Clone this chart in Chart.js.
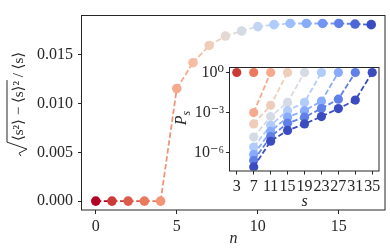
<!DOCTYPE html>
<html>
<head>
<meta charset="utf-8">
<script src="https://cdn.jsdelivr.net/npm/chart.js@4/dist/chart.umd.min.js"></script>
<style>
  html, body { margin: 0; padding: 0; background: #fff; }
  #wrap { position: relative; width: 390px; height: 251px; }
  #mainChart { position: absolute; left: 0; top: 0; }
  #insetChart { position: absolute; left: 168px; top: 55px; }
</style>
</head>
<body>
<div id="wrap">
  <canvas id="mainChart" width="390" height="251"></canvas>
  <canvas id="insetChart" width="218" height="157"></canvas>
</div>
<script>
// Main panel: relative width of the size distribution vs n
const nValues = [0, 1, 2, 3, 4, 5, 6, 7, 8, 9, 10, 11, 12, 13, 14, 15, 16, 17];
const relativeWidth = [0, 0, 0, 0, 0, 0.01154, 0.01419, 0.01596, 0.01692, 0.01744,
  0.01789, 0.01809, 0.01821, 0.01821, 0.01821, 0.01821, 0.01815, 0.01809];
const mainXTicks = [0, 5, 10, 15];
const mainXTickLabels = ['0', '5', '10', '15'];
const mainYTicks = [0, 0.005, 0.010, 0.015];
const mainYTickLabels = ['0.000', '0.005', '0.010', '0.015'];

// Inset: P_s for odd n (one curve each)
const insetN = [1, 3, 5, 7, 9, 11, 13, 15, 17];
const insetSizes = [
  [3],
  [7],
  [7, 11],
  [7, 11, 15],
  [7, 11, 15, 19],
  [7, 11, 15, 19, 23],
  [7, 11, 15, 19, 23, 27],
  [7, 11, 15, 19, 23, 27, 31],
  [7, 11, 15, 19, 23, 27, 31, 35]
];
const insetLog10P = [
  [0],
  [0],
  [-3.0, 0],
  [-3.85, -2.46, 0],
  [-4.84, -3.3, -2.24, 0],
  [-5.58, -3.95, -2.86, -2.24, 0],
  [-6.15, -4.4, -3.35, -2.86, -2.15, 0],
  [-6.6, -4.8, -3.8, -3.35, -2.7, -2.0, 0],
  [-7.07, -5.15, -4.34, -3.85, -3.3, -2.7, -2.07, 0]
];
const insetXTicks = [3, 7, 11, 15, 19, 23, 27, 31, 35];
const insetXTickLabels = ['3', '7', '11', '15', '19', '23', '27', '31', '35'];
const insetYTicks = [1e-6, 1e-3, 1];
const insetYTickLabels = ['10\u207B\u2076', '10\u207B\u00B3', '10\u2070'];

const yTitleInner = '\u27E8s\u00B2\u27E9 \u2212 \u27E8s\u27E9\u00B2';
const yTitleOuter = ' / \u27E8s\u27E9';

// coolwarm colormap anchors (every 1/16)
const coolwarm = [
  [59, 76, 192], [77, 104, 215], [98, 130, 234], [119, 154, 247], [141, 176, 254],
  [163, 194, 255], [184, 208, 249], [204, 217, 238], [221, 221, 221], [236, 211, 197],
  [245, 196, 173], [247, 177, 148], [244, 154, 123], [236, 127, 99], [222, 96, 77],
  [203, 62, 56], [180, 4, 38]
];
function cmap(t) {
  const f = Math.min(Math.max(t, 0), 1) * 16;
  const i = Math.min(Math.floor(f), 15);
  const a = coolwarm[i], b = coolwarm[i + 1], u = f - i;
  const c = a.map((v, k) => Math.round(v + (b[k] - v) * u));
  return 'rgb(' + c.join(',') + ')';
}
const colorForN = n => cmap(1 - n / 17);

const SERIF = '"Liberation Serif", "DejaVu Serif", serif';
const INK = '#262626';
const tickFont = { family: SERIF, size: 16 };

const framePlugin = {
  id: 'frame',
  beforeDraw(chart, args, opts) {
    if (!opts.fill) return;
    const a = chart.chartArea, ctx = chart.ctx;
    ctx.save();
    ctx.fillStyle = opts.fill;
    ctx.fillRect(a.left, a.top, a.right - a.left, a.bottom - a.top);
    ctx.restore();
  },
  afterDraw(chart) {
    const a = chart.chartArea, ctx = chart.ctx;
    ctx.save();
    ctx.strokeStyle = INK;
    ctx.lineWidth = 1;
    ctx.strokeRect(Math.round(a.left) - 0.5, Math.round(a.top) + 0.5,
      Math.round(a.right - a.left) + 0.5, Math.round(a.bottom - a.top) - 0.5);
    ctx.restore();
  }
};

const mainTitlePlugin = {
  id: 'mainTitle',
  afterDraw(chart) {
    const ctx = chart.ctx;
    ctx.save();
    ctx.font = '15px ' + SERIF;
    const wi = ctx.measureText(yTitleInner).width;
    const wo = ctx.measureText(yTitleOuter).width;
    const rad = 15;
    const total = rad + wi + wo;
    ctx.translate(19, 104);
    ctx.rotate(-Math.PI / 2);
    const x0 = -total / 2;
    ctx.fillStyle = INK;
    ctx.strokeStyle = INK;
    ctx.lineWidth = 1;
    ctx.beginPath();
    ctx.moveTo(x0, 2);
    ctx.lineTo(x0 + 3, 0);
    ctx.lineTo(x0 + 7, 8);
    ctx.lineTo(x0 + rad - 1, -12);
    ctx.lineTo(x0 + rad + wi + 1, -12);
    ctx.stroke();
    ctx.textBaseline = 'middle';
    ctx.fillText(yTitleInner, x0 + rad, 0);
    ctx.fillText(yTitleOuter, x0 + rad + wi, 0);
    ctx.restore();
  }
};

const insetTitlePlugin = {
  id: 'insetTitle',
  afterDraw(chart) {
    const ctx = chart.ctx;
    ctx.save();
    ctx.font = 'italic 16px ' + SERIF;
    const wp = ctx.measureText('P').width;
    ctx.font = 'italic 12px ' + SERIF;
    const ws = ctx.measureText('s').width;
    ctx.translate(14, 63);
    ctx.rotate(-Math.PI / 2);
    ctx.fillStyle = INK;
    ctx.textBaseline = 'middle';
    const x0 = -(wp + ws) / 2;
    ctx.font = 'italic 16px ' + SERIF;
    ctx.fillText('P', x0, 0);
    ctx.font = 'italic 12px ' + SERIF;
    ctx.fillText('s', x0 + wp, 5);
    ctx.restore();
  }
};

function axisCommon(ticksArr, labels, extra) {
  return Object.assign({
    afterBuildTicks: s => { s.ticks = ticksArr.map(v => ({ value: v })); },
    ticks: {
      callback: (v, i) => labels[i],
      font: tickFont, color: INK, autoSkip: false, maxRotation: 0, minRotation: 0
    },
    grid: { display: true, drawOnChartArea: false, drawTicks: true, tickLength: 4, color: INK, lineWidth: 1 },
    border: { display: false }
  }, extra);
}

// main chart
const mainColors = nValues.map(colorForN);
new Chart(document.getElementById('mainChart'), {
  type: 'scatter',
  data: {
    datasets: [{
      data: nValues.map((n, i) => ({ x: n, y: relativeWidth[i] })),
      showLine: true,
      borderDash: [5.5, 2.5],
      borderWidth: 1.8,
      borderColor: mainColors[0],
      segment: { borderColor: c => mainColors[c.p0DataIndex] },
      pointRadius: 4.8,
      pointBorderWidth: 0,
      pointBackgroundColor: mainColors
    }]
  },
  options: {
    responsive: false,
    animation: false,
    events: [],
    layout: { padding: { left: 0, top: 3, right: 5, bottom: 0 } },
    plugins: { legend: { display: false }, tooltip: { enabled: false } },
    scales: {
      x: axisCommon(mainXTicks, mainXTickLabels, {
        type: 'linear', min: -0.85, max: 17.85,
        afterFit: s => { s.height = 41; },
        title: { display: true, text: 'n', color: INK,
          font: { family: SERIF, size: 16, style: 'italic' }, padding: { top: 0, bottom: 3 } }
      }),
      y: axisCommon(mainYTicks, mainYTickLabels, {
        type: 'linear', min: -0.00091, max: 0.01912,
        afterFit: s => { s.width = 82; }
      })
    }
  },
  plugins: [framePlugin, mainTitlePlugin]
});
// tick label padding tweaks
Chart.getChart('mainChart').options.scales.y.ticks.padding = 5;
Chart.getChart('mainChart').options.scales.x.ticks.padding = 3;
Chart.getChart('mainChart').update();

// inset chart
new Chart(document.getElementById('insetChart'), {
  type: 'scatter',
  data: {
    datasets: insetN.map((n, k) => ({
      data: insetSizes[k].map((s, i) => ({ x: s, y: Math.pow(10, insetLog10P[k][i]) })),
      showLine: true,
      borderDash: [5.5, 2.5],
      borderWidth: 1.8,
      borderColor: colorForN(n),
      pointRadius: 4.6,
      pointBorderWidth: 0,
      pointBackgroundColor: colorForN(n),
      order: -k
    }))
  },
  options: {
    responsive: false,
    animation: false,
    events: [],
    layout: { padding: { left: 0, top: 10, right: 7, bottom: 0 } },
    plugins: { legend: { display: false }, tooltip: { enabled: false }, frame: { fill: '#ffffff' } },
    scales: {
      x: axisCommon(insetXTicks, insetXTickLabels, {
        type: 'linear', min: 1.4, max: 36.6,
        afterFit: s => { s.height = 41.5; },
        title: { display: true, text: 's', color: INK,
          font: { family: SERIF, size: 16, style: 'italic' }, padding: { top: 0, bottom: 1 } }
      }),
      y: axisCommon(insetYTicks, insetYTickLabels, {
        type: 'logarithmic', min: Math.pow(10, -7.34), max: Math.pow(10, 0.44),
        afterFit: s => { s.width = 62; }
      })
    }
  },
  plugins: [framePlugin, insetTitlePlugin]
});
Chart.getChart('insetChart').options.scales.y.ticks.padding = 2;
Chart.getChart('insetChart').update();
</script>
</body>
</html>
